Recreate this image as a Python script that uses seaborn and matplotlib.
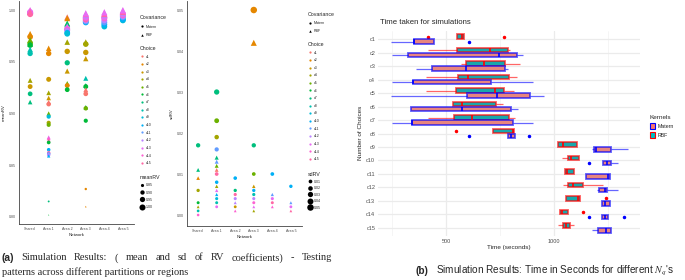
import numpy as np
import pandas as pd
import matplotlib
matplotlib.use("Agg")
import matplotlib.pyplot as plt
import seaborn as sns
from matplotlib.lines import Line2D
from matplotlib.patches import Patch
from matplotlib.colors import to_rgba

sns.set_style("white")
plt.rcParams['font.family'] = ['Liberation Sans', 'DejaVu Sans']
plt.rcParams['mathtext.fontset'] = 'stix'

W, H = 685, 280

networks = ["Shared", "Area 1", "Area 2", "Area 3", "Area 4", "Area 5"]
choices = ["c%d" % i for i in range(1, 16)]
choice_colors = ["#F8766D", "#E58700", "#C99800", "#A3A500", "#6BB100",
                 "#00BA38", "#00BF7D", "#00C0AF", "#00BCD8", "#00B0F6",
                 "#619CFF", "#B983FF", "#E76BF3", "#FD61D1", "#FF67A4"]
cov_markers = {"Matern": "o", "RBF": "^"}

# meanRV: (choice, covariance, meanRV)
shared_mean = [("c2", "RBF", 0.977), ("c2", "Matern", 0.974), ("c5", "RBF", 0.971),
               ("c5", "Matern", 0.968), ("c6", "RBF", 0.967), ("c6", "Matern", 0.966),
               ("c8", "RBF", 0.962), ("c8", "Matern", 0.958), ("c4", "RBF", 0.932),
               ("c3", "Matern", 0.926), ("c7", "Matern", 0.919), ("c7", "RBF", 0.911),
               ("c12", "Matern", 0.997), ("c13", "Matern", 0.998), ("c14", "Matern", 0.997),
               ("c15", "Matern", 0.996), ("c12", "RBF", 0.999), ("c13", "RBF", 1.000),
               ("c14", "RBF", 0.999), ("c15", "RBF", 0.998)]
area1_mean = [("c2", "RBF", 0.963), ("c2", "Matern", 0.958), ("c3", "Matern", 0.933),
              ("c4", "RBF", 0.920), ("c3", "RBF", 0.915), ("c1", "RBF", 0.911),
              ("c1", "Matern", 0.909), ("c5", "RBF", 0.900), ("c9", "Matern", 0.897),
              ("c4", "Matern", 0.891), ("c5", "Matern", 0.889), ("c13", "RBF", 0.877),
              ("c14", "RBF", 0.876), ("c15", "RBF", 0.874), ("c6", "Matern", 0.872),
              ("c10", "Matern", 0.865), ("c11", "RBF", 0.863), ("c15", "Matern", 0.862),
              ("c11", "Matern", 0.861), ("c12", "Matern", 0.860), ("c10", "RBF", 0.859),
              ("c7", "Matern", 0.815), ("c6", "RBF", 0.802)]
area2_mean = [("c1", "RBF", 0.993), ("c2", "RBF", 0.992), ("c6", "RBF", 0.987),
              ("c7", "RBF", 0.986), ("c8", "RBF", 0.984), ("c15", "RBF", 0.983),
              ("c13", "RBF", 0.984), ("c13", "Matern", 0.982), ("c14", "Matern", 0.981),
              ("c12", "Matern", 0.980), ("c10", "Matern", 0.978), ("c9", "Matern", 0.977),
              ("c4", "RBF", 0.969), ("c3", "Matern", 0.960), ("c7", "Matern", 0.949),
              ("c3", "RBF", 0.941), ("c5", "RBF", 0.929), ("c2", "Matern", 0.927),
              ("c6", "Matern", 0.923)]
area3_mean = [("c10", "Matern", 0.988), ("c11", "Matern", 0.989), ("c12", "Matern", 0.990),
              ("c15", "Matern", 0.991), ("c14", "Matern", 0.992), ("c13", "Matern", 0.993),
              ("c12", "RBF", 0.995), ("c14", "RBF", 0.996), ("c13", "RBF", 0.997),
              ("c4", "Matern", 0.967), ("c4", "RBF", 0.969), ("c3", "Matern", 0.959),
              ("c3", "RBF", 0.953), ("c8", "RBF", 0.934), ("c7", "RBF", 0.927),
              ("c6", "Matern", 0.926), ("c1", "RBF", 0.923), ("c1", "Matern", 0.919),
              ("c6", "RBF", 0.906), ("c5", "Matern", 0.905), ("c6", "Matern", 0.893),
              ("c2", "Matern", 0.827), ("c2", "RBF", 0.810)]
area4_mean = [("c9", "Matern", 0.984), ("c10", "Matern", 0.986), ("c11", "Matern", 0.988),
              ("c12", "Matern", 0.990), ("c14", "Matern", 0.992), ("c13", "Matern", 0.993),
              ("c12", "RBF", 0.995), ("c15", "RBF", 0.996), ("c14", "RBF", 0.997),
              ("c13", "RBF", 0.998)]
area5_mean = [("c9", "Matern", 0.990), ("c10", "Matern", 0.991), ("c11", "Matern", 0.993),
              ("c12", "Matern", 0.994), ("c14", "Matern", 0.995), ("c13", "Matern", 0.996),
              ("c12", "RBF", 0.997), ("c15", "RBF", 0.998), ("c14", "RBF", 0.999),
              ("c13", "RBF", 1.000)]

# sdRV
shared_sd = [("c7", "Matern", 0.017), ("c7", "RBF", 0.011), ("c2", "RBF", 0.009),
             ("c4", "Matern", 0.006), ("c6", "Matern", 0.003), ("c4", "RBF", 0.002),
             ("c8", "Matern", 0.001), ("c14", "Matern", 0.000)]
area1_sd = [("c7", "Matern", 0.030), ("c5", "Matern", 0.023), ("c4", "Matern", 0.019),
            ("c11", "Matern", 0.016), ("c7", "RBF", 0.014), ("c11", "RBF", 0.013),
            ("c5", "RBF", 0.012), ("c1", "RBF", 0.011), ("c15", "Matern", 0.010),
            ("c10", "Matern", 0.008), ("c4", "RBF", 0.007), ("c13", "RBF", 0.006),
            ("c10", "RBF", 0.005), ("c9", "Matern", 0.004), ("c8", "Matern", 0.003),
            ("c13", "Matern", 0.002)]
area2_sd = [("c10", "Matern", 0.009), ("c7", "Matern", 0.006), ("c15", "Matern", 0.005),
            ("c12", "Matern", 0.004), ("c12", "RBF", 0.003), ("c3", "Matern", 0.002),
            ("c14", "RBF", 0.001)]
area3_sd = [("c2", "Matern", 0.050), ("c2", "RBF", 0.042), ("c7", "Matern", 0.017),
            ("c5", "Matern", 0.010), ("c3", "RBF", 0.007), ("c10", "Matern", 0.006),
            ("c8", "Matern", 0.005), ("c12", "Matern", 0.004), ("c14", "Matern", 0.003),
            ("c13", "RBF", 0.002), ("c4", "RBF", 0.001)]
area4_sd = [("c10", "Matern", 0.010), ("c11", "RBF", 0.005), ("c13", "Matern", 0.004),
            ("c15", "Matern", 0.003), ("c14", "RBF", 0.002)]
area5_sd = [("c10", "Matern", 0.007), ("c11", "RBF", 0.003), ("c13", "Matern", 0.002),
            ("c15", "RBF", 0.001)]

# simulation times (s): whisker low, q1, median, q3, whisker high / outliers
rbf_times = [[417, 551, 574, 583, 769], [417, 551, 704, 787, 796],
             [569, 593, 676, 773, 843], [407, 556, 602, 792, 829],
             [407, 546, 727, 769, 815], [532, 532, 574, 732, 764],
             [417, 537, 620, 792, 819], [546, 718, 810, 815, 815],
             [1019, 1019, 1042, 1107, 1107], [1037, 1065, 1079, 1116, 1116],
             [1051, 1051, 1060, 1093, 1093], [1042, 1065, 1088, 1134, 1227],
             [1056, 1056, 1111, 1120, 1241], [1028, 1028, 1037, 1065, 1134],
             [1019, 1042, 1056, 1074, 1093]]
matern_times = [[245, 352, 352, 444, 606], [250, 324, 745, 829, 856],
                [361, 435, 593, 773, 787], [250, 347, 347, 708, 903],
                [245, 597, 736, 889, 954], [338, 338, 574, 801, 833],
                [250, 343, 343, 810, 903], [606, 787, 801, 819, 884],
                [1176, 1185, 1195, 1264, 1343], [1162, 1227, 1245, 1264, 1296],
                [1148, 1148, 1250, 1259, 1259], [1199, 1208, 1236, 1245, 1298],
                [1222, 1222, 1236, 1259, 1259], [1162, 1222, 1236, 1250, 1324],
                [1176, 1204, 1241, 1264, 1264]]
kernel_fill = {"Matern": "#F8766D", "RBF": "#00BFC4"}
kernel_edge = {"Matern": "blue", "RBF": "red"}

caption_a1 = "Simulation Results: ( mean and sd of RV coefficients) - Testing"
caption_a2 = "patterns across different partitions or regions"
caption_b = "Simulation Results: Time in Seconds for different $N_q$'s"


def long_table(groups, col):
    rows = []
    for net, pts in zip(networks, groups):
        for ch, cov, v in pts:
            rows.append({"Network": net, "Choice": ch, "Covariance": cov, col: v})
    df = pd.DataFrame(rows)
    df["Network"] = pd.Categorical(df["Network"], categories=networks)
    return df


mean_df = long_table([shared_mean, area1_mean, area2_mean, area3_mean, area4_mean, area5_mean], "meanRV")
sd_df = long_table([shared_sd, area1_sd, area2_sd, area3_sd, area4_sd, area5_sd], "sdRV")

rows = []
for kern, table in [("RBF", rbf_times), ("Matern", matern_times)]:
    for ch, vals in zip(choices, table):
        for v in vals:
            rows.append({"Choice": ch, "Kernel": kern, "Time": v})
time_df = pd.DataFrame(rows)


def px_box(l, t, r, b):
    return [l / W, 1 - b / H, (r - l) / W, (b - t) / H]


fig = plt.figure(figsize=(6.85, 2.8), dpi=100)
fig.patch.set_facecolor("white")

mean_sizes = (0.5, 19)
sd_sizes = (3.5, 22)


def classic_axes(ax):
    for s in ["top", "right"]:
        ax.spines[s].set_visible(False)
    for s in ["left", "bottom"]:
        ax.spines[s].set_color("#444444")
        ax.spines[s].set_linewidth(0.6)
    ax.tick_params(labelsize=2.6, length=1.3, width=0.4, pad=1.2,
                   colors="#555555", labelcolor="#4D4D4D")


# panel a-1: meanRV
ax1 = fig.add_axes(px_box(19, 1, 134, 224))
sns.scatterplot(data=mean_df, x="Network", y="meanRV", hue="Choice", hue_order=choices,
                palette=choice_colors, style="Covariance", style_order=["Matern", "RBF"],
                markers=cov_markers, size="meanRV", sizes=mean_sizes, size_norm=(0.80, 1.00),
                linewidth=0, legend=False, ax=ax1)
ax1.set_xlim(-0.6, 5.6)
ax1.set_ylim(0.7932, 1.0087)
ax1.set_yticks([0.80, 0.85, 0.90, 0.95, 1.00])
ax1.set_yticklabels(["0.80", "0.85", "0.90", "0.95", "1.00"])
classic_axes(ax1)
ax1.set_xlabel("Network", fontsize=3.2, labelpad=1)
ax1.set_ylabel("meanRV", fontsize=3.2, labelpad=2)

# panel a-2: sdRV
ax2 = fig.add_axes(px_box(187, 1, 302, 226))
sns.scatterplot(data=sd_df, x="Network", y="sdRV", hue="Choice", hue_order=choices,
                palette=choice_colors, style="Covariance", style_order=["Matern", "RBF"],
                markers=cov_markers, size="sdRV", sizes=sd_sizes, size_norm=(0.0, 0.05),
                linewidth=0, legend=False, ax=ax2)
ax2.set_xlim(-0.6, 5.6)
ax2.set_ylim(-0.00268, 0.0522)
ax2.set_yticks([0.00, 0.01, 0.02, 0.03, 0.04, 0.05])
ax2.set_yticklabels(["0.00", "0.01", "0.02", "0.03", "0.04", "0.05"])
classic_axes(ax2)
ax2.set_xlabel("Network", fontsize=3.2, labelpad=1)
ax2.set_ylabel("sdRV", fontsize=3.2, labelpad=2)


def small_legend(handles, labels, title, x, y, spacing=1.05):
    leg = fig.legend(handles, labels, title=title, loc="upper left",
                     bbox_to_anchor=(x / W, 1 - y / H), frameon=False, fontsize=2.6,
                     title_fontsize=3.8, alignment="left", handlelength=0.9,
                     handletextpad=0.7, labelspacing=spacing, borderpad=0, borderaxespad=0)
    return leg


def size_ms(v, lo, hi, sizes):
    return np.sqrt(sizes[0] + (v - lo) / (hi - lo) * (sizes[1] - sizes[0]))


cov_handles = [Line2D([], [], marker="o", ls="", color="black", markersize=1.6, markeredgewidth=0),
               Line2D([], [], marker="^", ls="", color="black", markersize=1.8, markeredgewidth=0)]
choice_handles = [Line2D([], [], marker="o", ls="", color=c, markersize=1.6, markeredgewidth=0)
                  for c in choice_colors]

small_legend(cov_handles, ["Matern", "RBF"], "Covariance", 140, 15, spacing=1.25)
small_legend(choice_handles, choices, "Choice", 140, 46, spacing=1.0)
small_legend(cov_handles, ["Matern", "RBF"], "Covariance", 308, 12, spacing=1.15)
small_legend(choice_handles, choices, "Choice", 308, 42, spacing=1.0)

mean_keys = [0.85, 0.90, 0.95, 1.00]
small_legend([Line2D([], [], marker="o", ls="", color="black", markeredgewidth=0,
                     markersize=size_ms(v, 0.8, 1.0, mean_sizes)) for v in mean_keys],
             ["%.2f" % v for v in mean_keys], "meanRV", 140, 175, spacing=0.9)
sd_keys = [0.01, 0.02, 0.03, 0.04, 0.05]
small_legend([Line2D([], [], marker="o", ls="", color="black", markeredgewidth=0,
                     markersize=size_ms(v, 0.0, 0.05, sd_sizes)) for v in sd_keys],
             ["%.2f" % v for v in sd_keys], "sdRV", 308, 172, spacing=0.7)

# panel b: timing boxplots
ax3 = fig.add_axes(px_box(378, 31, 640, 236))
sns.boxplot(data=time_df, x="Time", y="Choice", order=choices, hue="Kernel",
            hue_order=["RBF", "Matern"], palette=kernel_fill, dodge=True, width=0.74,
            gap=0.05, linewidth=0.9, fliersize=1.5, showcaps=False, legend=False, ax=ax3)

# ggplot-style outlines: RBF boxes (upper) red, Matern boxes (lower) blue
def kernel_at(yvals):
    m = np.mean(yvals)
    return "RBF" if m - np.round(m) < 0 else "Matern"


for p in ax3.patches:
    edge = kernel_edge[kernel_at(p.get_path().vertices[:, 1])]
    p.set_edgecolor(to_rgba(edge, 0.65))
    p.set_linewidth(1.3)
for ln in ax3.lines:
    y = np.asarray(ln.get_ydata(), dtype=float)
    if len(y) == 0:
        continue
    edge = kernel_edge[kernel_at(y)]
    if ln.get_marker() not in (None, "None", "", " "):
        ln.set_markerfacecolor(edge)
        ln.set_markeredgecolor(edge)
    elif np.ptp(y) > 0:
        ln.set_color(edge)
        ln.set_linewidth(1.2)
    else:
        ln.set_color(to_rgba(edge, 0.6))
        ln.set_linewidth(0.9)

ax3.set_xlim(185, 1398)
ax3.set_ylim(14.6, -0.6)
ax3.set_xticks([500, 1000])
ax3.set_xticks([250, 750, 1250], minor=True)
ax3.set_axisbelow(True)
ax3.grid(True, which="major", color="#EBEBEB", linewidth=0.9)
ax3.grid(True, which="minor", axis="x", color="#F2F2F2", linewidth=0.5)
for s in ax3.spines.values():
    s.set_visible(False)
ax3.tick_params(which="both", length=0, labelsize=4, labelcolor="#4D4D4D", pad=2)
ax3.set_xlabel("")
ax3.set_ylabel("")
fig.text(380 / W, 1 - 22 / H, "Time taken for simulations", fontsize=5.6, va="center", ha="left")
fig.text(360 / W, 1 - 133 / H, "Number of Choices", fontsize=4.6, rotation=90, va="center", ha="center")
fig.text(509 / W, 1 - 248 / H, "Time (seconds)", fontsize=4.6, va="center", ha="center")

kern_handles = [Patch(facecolor=kernel_fill["Matern"], edgecolor="blue", linewidth=0.8),
                Patch(facecolor=kernel_fill["RBF"], edgecolor="red", linewidth=0.8)]
fig.legend(kern_handles, ["Matern", "RBF"], title="Kernels", loc="upper left",
           bbox_to_anchor=(650 / W, 1 - 115 / H), frameon=False, fontsize=3.8,
           title_fontsize=4.6, alignment="left", handlelength=0.9, handleheight=1.3,
           handletextpad=0.6, labelspacing=0.6, borderpad=0, borderaxespad=0)

# captions; first line of (a) is justified like the LaTeX subcaption
fig.text(2 / W, 1 - 258 / H, "(a)", fontsize=7.5, fontweight="bold", va="center")
renderer = fig.canvas.get_renderer()
words = [fig.text(0, 1 - 258 / H, w, fontsize=7.5, family="Liberation Serif", va="center")
         for w in caption_a1.split(" ")]
widths = [t.get_window_extent(renderer).width for t in words]
x0, x1 = 21.0, 332.0
gap = (x1 - x0 - sum(widths)) / (len(words) - 1)
xpos = x0
for t, w in zip(words, widths):
    t.set_x(xpos / W)
    xpos += w + gap
fig.text(2 / W, 1 - 272 / H, caption_a2, fontsize=7.5, family="Liberation Serif", va="center")
fig.text(415 / W, 1 - 271 / H, "(b)", fontsize=7.2, fontweight="bold", va="center")
fig.text(436 / W, 1 - 271 / H, caption_b, fontsize=7.2, va="center")

fig.savefig("out.png", dpi=100, facecolor="white")
